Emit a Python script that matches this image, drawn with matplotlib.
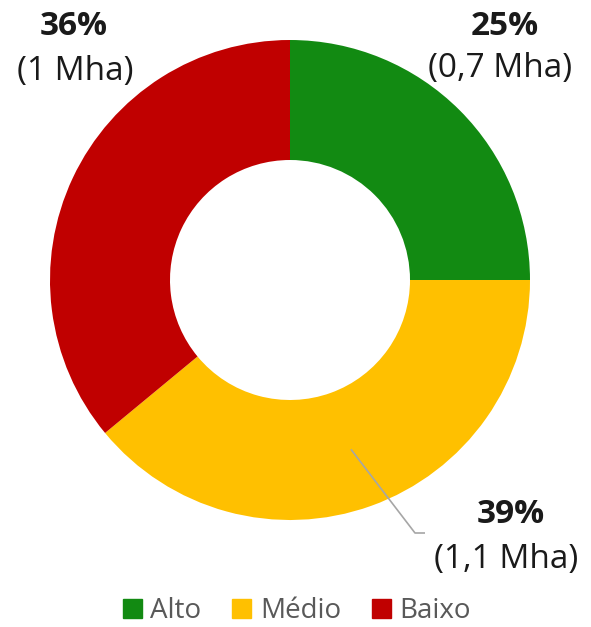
import numpy as np
import matplotlib.pyplot as plt

plt.rcParams['font.family'] = ['Open Sans', 'DejaVu Sans']

categories = ['Alto', 'Médio', 'Baixo']
shares = [25, 39, 36]
areas = ['0,7', '1,1', '1']
colors = ['#128A12', '#FFC000', '#C00000']

W, H = 591, 627
fig = plt.figure(figsize=(W / 100, H / 100), dpi=100)
ax = fig.add_axes([0, 0, 1, 1])
ax.set_xlim(0, W)
ax.set_ylim(0, H)
ax.set_aspect('equal')
ax.axis('off')

cx, cy, R = 290, H - 280, 240
hole = 0.5
wedges, _ = ax.pie(shares, colors=colors, startangle=90, counterclock=False,
                   center=(cx, cy), radius=R,
                   wedgeprops=dict(width=R * (1 - hole), linewidth=0))
ax.set_xlim(0, W)
ax.set_ylim(0, H)

# label anchors (x centre, baseline), pixel coords with top-left origin
label_pos = {
    'Alto': ((505, 35), (500, 77)),
    'Médio': ((511, 523), (506, 568)),
    'Baixo': ((74, 35), (75, 80)),
}
for cat, s, a in zip(categories, shares, areas):
    (px, py), (qx, qy) = label_pos[cat]
    ax.text(px, H - py, f'{s}%', ha='center', va='baseline', fontsize=24,
            fontweight='bold', color='#1a1a1a')
    ax.text(qx, H - qy, f'({a} Mha)', ha='center', va='baseline', fontsize=24,
            color='#1a1a1a')

# leader line for the middle slice
w = wedges[1]
mid = np.deg2rad((w.theta1 + w.theta2) / 2)
rmid = R * (1 + hole) / 2
sx, sy = cx + rmid * np.cos(mid), cy + rmid * np.sin(mid)
ax.plot([sx, 415, 425], [sy, H - 533, H - 533], color='#a6a6a6', lw=1.2,
        solid_capstyle='butt')

handles = [plt.Rectangle((0, 0), 1, 1, color=c) for c in colors]
leg = fig.legend(handles, categories, loc='center', bbox_to_anchor=(0.502, 1 - 611 / H),
                 ncol=3, frameon=False, fontsize=20, handlelength=0.7,
                 handleheight=0.7, handletextpad=0.3, columnspacing=1.1,
                 labelcolor='#595959', borderpad=0, borderaxespad=0)

fig.savefig('out.png', dpi=100)
